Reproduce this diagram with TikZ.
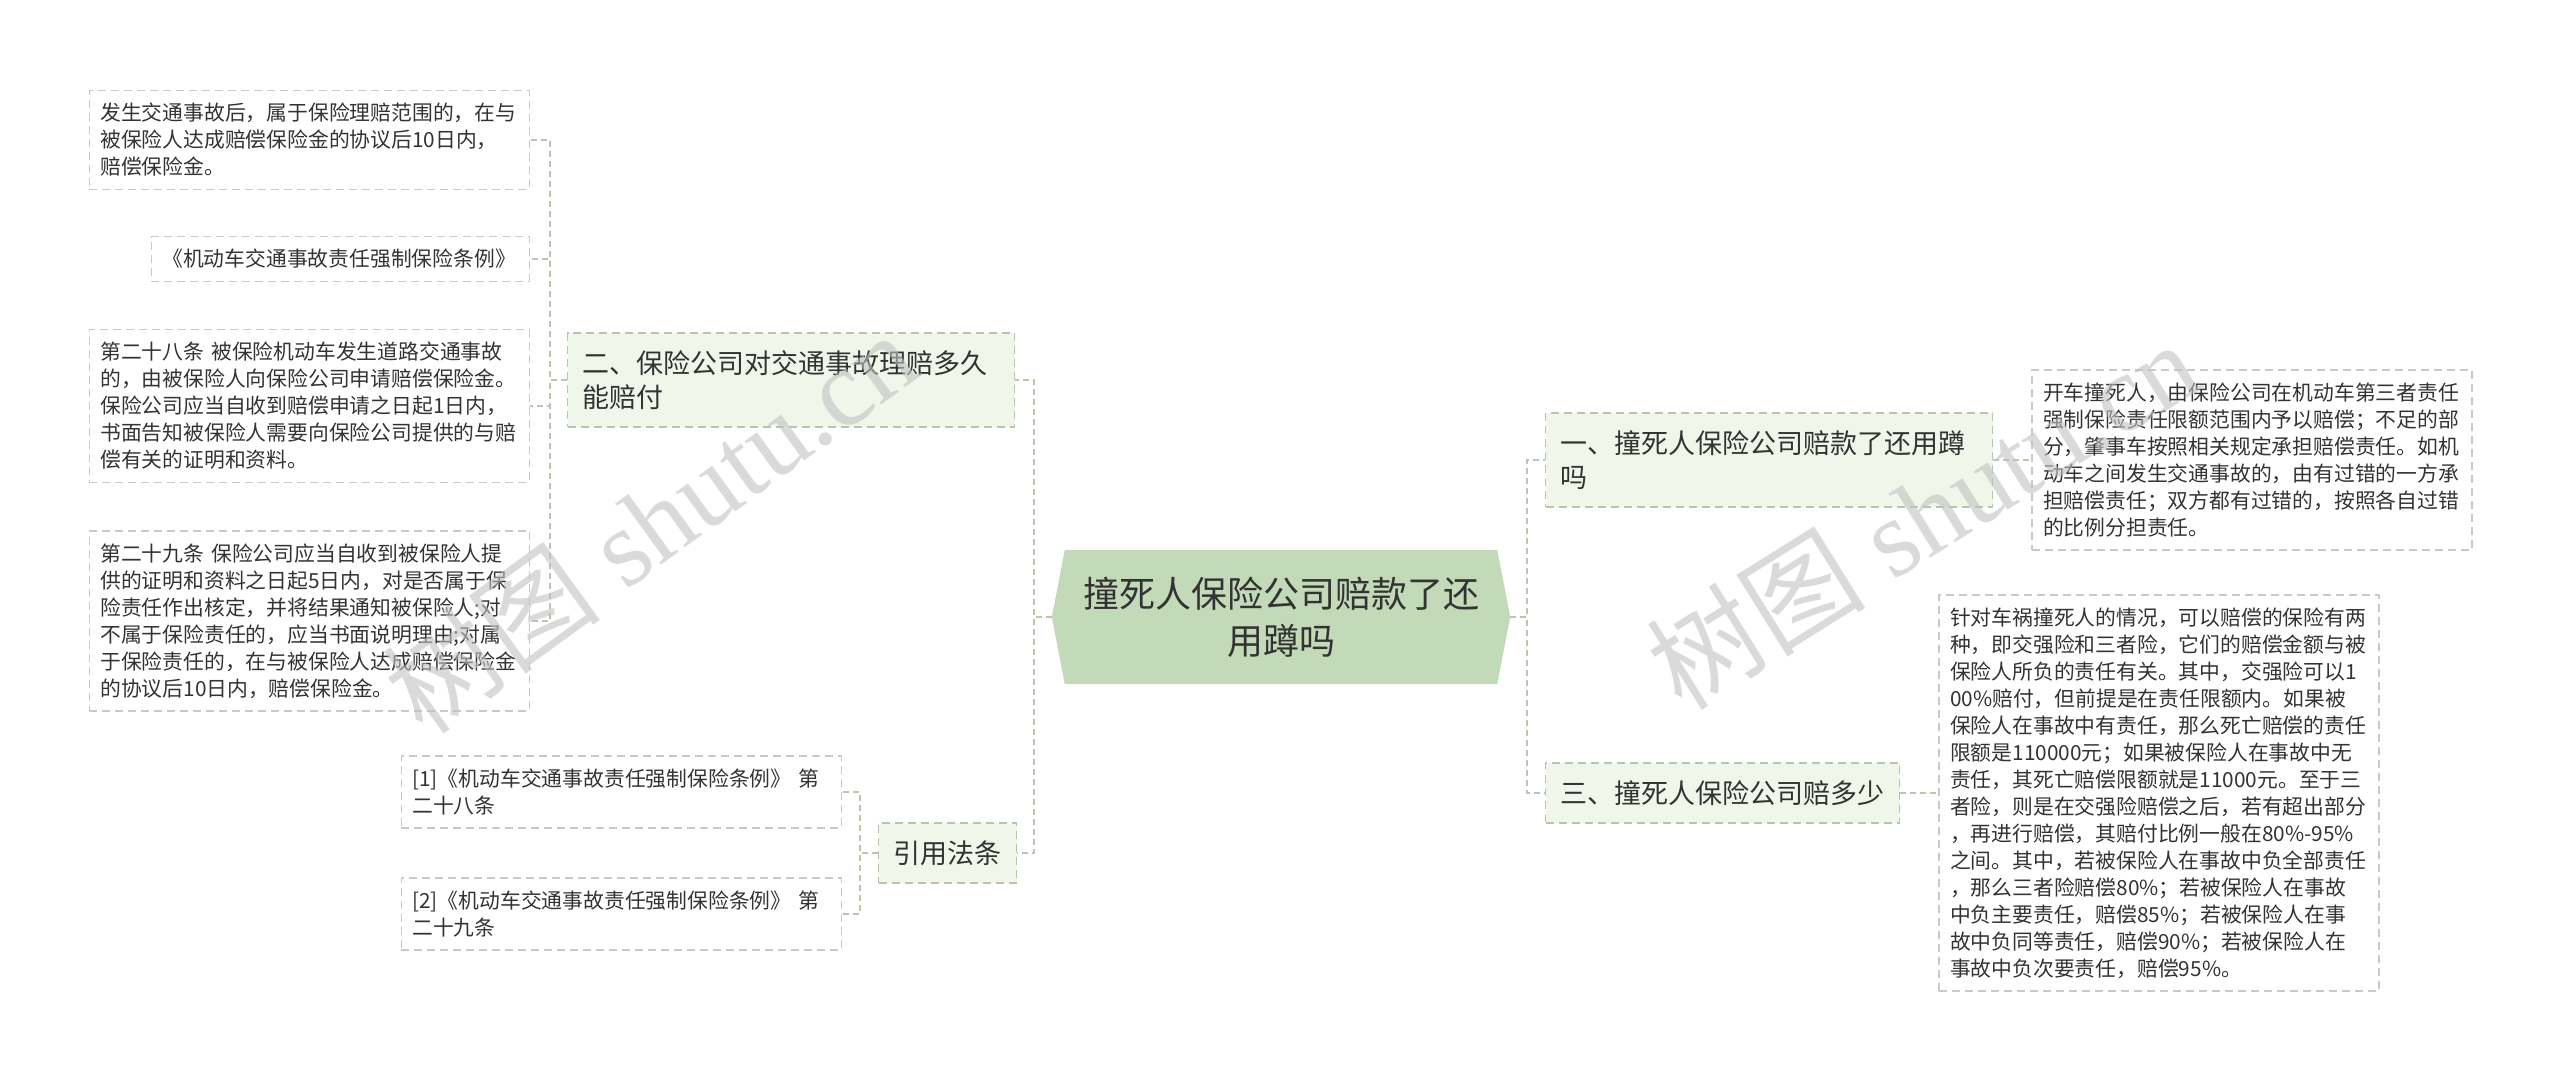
\documentclass[tikz,border=0pt]{standalone}
\usepackage{fontspec}
\newfontfamily\cjk{Noto Sans CJK SC}
\newfontfamily\wmserif{Liberation Serif}
\usepackage{xcolor}
\definecolor{cRoot}{HTML}{C3DAB9}
\definecolor{cBranch}{HTML}{F0F6EA}
\definecolor{cBranchLine}{HTML}{B7C6AB}
\definecolor{cLeafLine}{HTML}{C6CBC3}
\definecolor{cLink}{HTML}{B9C7AE}
\definecolor{cText}{HTML}{333333}
\definecolor{cMark}{HTML}{C2C2C2}
\usetikzlibrary{positioning,backgrounds}
\tikzset{
  node-root/.style={minimum width=458pt,minimum height=134pt,align=center,
    text=cText,font=\cjk\fontsize{36}{47}\selectfont},
  node-branch/.style={draw=cBranchLine,fill=cBranch,line width=1.4pt,
    dash pattern=on 8pt off 5pt,inner xsep=15pt,inner ysep=17.5pt,
    align=left,text=cText,font=\cjk\fontsize{27}{34}\selectfont},
  node-leaf/.style={draw=cLeafLine,fill=white,line width=1.4pt,
    dash pattern=on 8pt off 5pt,inner xsep=11pt,inner ysep=12.7pt,
    align=left,text width=418pt,text=cText,
    font=\cjk\fontsize{20.8}{27}\selectfont},
  link/.style={draw=cLink,line width=1.5pt,dash pattern=on 6pt off 4pt},
  water-mark/.style={text=cMark,opacity=0.6,inner sep=0pt,
    font=\fontsize{110}{110}\selectfont},
}

\begin{document}
\begin{tikzpicture}[x=1pt,y=-1pt]
  \useasboundingbox (0,0) rectangle (2560,1082);

  % centre
  \node[node-root] (root) at (1281,617) {撞死人保险公司赔款了还\\用蹲吗};

  % left side
  \node[node-branch,text width=417pt,anchor=west] (b2) at (567,380)
    {二、保险公司对交通事故理赔多久\\能赔付};
  \node[node-branch,anchor=west] (cite) at (878,853) {引用法条};

  \node[node-leaf,anchor=east] (l1) at (530,140)
    {发生交通事故后，属于保险理赔范围的，在与\\
     被保险人达成赔偿保险金的协议后10日内，\\
     赔偿保险金。};
  \node[node-leaf,text width=356pt,anchor=east] (l2) at (530,259)
    {《机动车交通事故责任强制保险条例》};
  \node[node-leaf,anchor=east] (l3) at (530,406)
    {第二十八条 被保险机动车发生道路交通事故\\
     的，由被保险人向保险公司申请赔偿保险金。\\
     保险公司应当自收到赔偿申请之日起1日内，\\
     书面告知被保险人需要向保险公司提供的与赔\\
     偿有关的证明和资料。};
  \node[node-leaf,anchor=east] (l4) at (530,621)
    {第二十九条 保险公司应当自收到被保险人提\\
     供的证明和资料之日起5日内，对是否属于保\\
     险责任作出核定，并将结果通知被保险人;对\\
     不属于保险责任的，应当书面说明理由;对属\\
     于保险责任的，在与被保险人达成赔偿保险金\\
     的协议后10日内，赔偿保险金。};

  \node[node-leaf,anchor=east] (ref1) at (842,792)
    {[1]《机动车交通事故责任强制保险条例》 第\\二十八条};
  \node[node-leaf,anchor=east] (ref2) at (842,914)
    {[2]《机动车交通事故责任强制保险条例》 第\\二十九条};

  % right side
  \node[node-branch,text width=417pt,anchor=west] (b1) at (1545,460)
    {一、撞死人保险公司赔款了还用蹲\\吗};
  \node[node-branch,anchor=west] (b3) at (1545,793) {三、撞死人保险公司赔多少};

  \node[node-leaf,right=38pt of b1] (r1)
    {开车撞死人，由保险公司在机动车第三者责任\\
     强制保险责任限额范围内予以赔偿；不足的部\\
     分，肇事车按照相关规定承担赔偿责任。如机\\
     动车之间发生交通事故的，由有过错的一方承\\
     担赔偿责任；双方都有过错的，按照各自过错\\
     的比例分担责任。};
  \node[node-leaf,right=38pt of b3] (r2)
    {针对车祸撞死人的情况，可以赔偿的保险有两\\
     种，即交强险和三者险，它们的赔偿金额与被\\
     保险人所负的责任有关。其中，交强险可以1\\
     00\%赔付，但前提是在责任限额内。如果被\\
     保险人在事故中有责任，那么死亡赔偿的责任\\
     限额是110000元；如果被保险人在事故中无\\
     责任，其死亡赔偿限额就是11000元。至于三\\
     者险，则是在交强险赔偿之后，若有超出部分\\
     ，再进行赔偿，其赔付比例一般在80\%-95\%\\
     之间。其中，若被保险人在事故中负全部责任\\
     ，那么三者险赔偿80\%；若被保险人在事故\\
     中负主要责任，赔偿85\%；若被保险人在事\\
     故中负同等责任，赔偿90\%；若被保险人在\\
     事故中负次要责任，赔偿95\%。};

  \begin{scope}[on background layer]
    \fill[white] (0,0) rectangle (2560,1082);
    \fill[cRoot] (root.west) -- ([xshift=13pt]root.north west)
      -- ([xshift=-13pt]root.north east) -- (root.east)
      -- ([xshift=-13pt]root.south east) -- ([xshift=13pt]root.south west)
      -- cycle;
    \draw[link] (root.west) -- ++(-18,0) |- (b2.east);
    \draw[link] (root.west) -- ++(-18,0) |- (cite.east);
    \draw[link] (root.east) -- ++(17,0) |- (b1.west);
    \draw[link] (root.east) -- ++(17,0) |- (b3.west);
    \foreach \leaf in {l1,l2,l3,l4}
      \draw[link] (b2.west) -- ++(-17,0) |- (\leaf.east);
    \foreach \leaf in {ref1,ref2}
      \draw[link] (cite.west) -- ++(-18,0) |- (\leaf.east);
    \draw[link] (b1.east) -- (b1.east -| r1.west);
    \draw[link] (b3.east) -- (b3.east -| r2.west);
  \end{scope}

  % watermarks
  \node[water-mark,rotate=36] (wm1) at (650,522) {\cjk 树图\wmserif\ shutu.cn};
  \node[water-mark,rotate=32] (wm2) at (1922,514) {\cjk 树图\wmserif\ shutu.cn};
\end{tikzpicture}
\end{document}
